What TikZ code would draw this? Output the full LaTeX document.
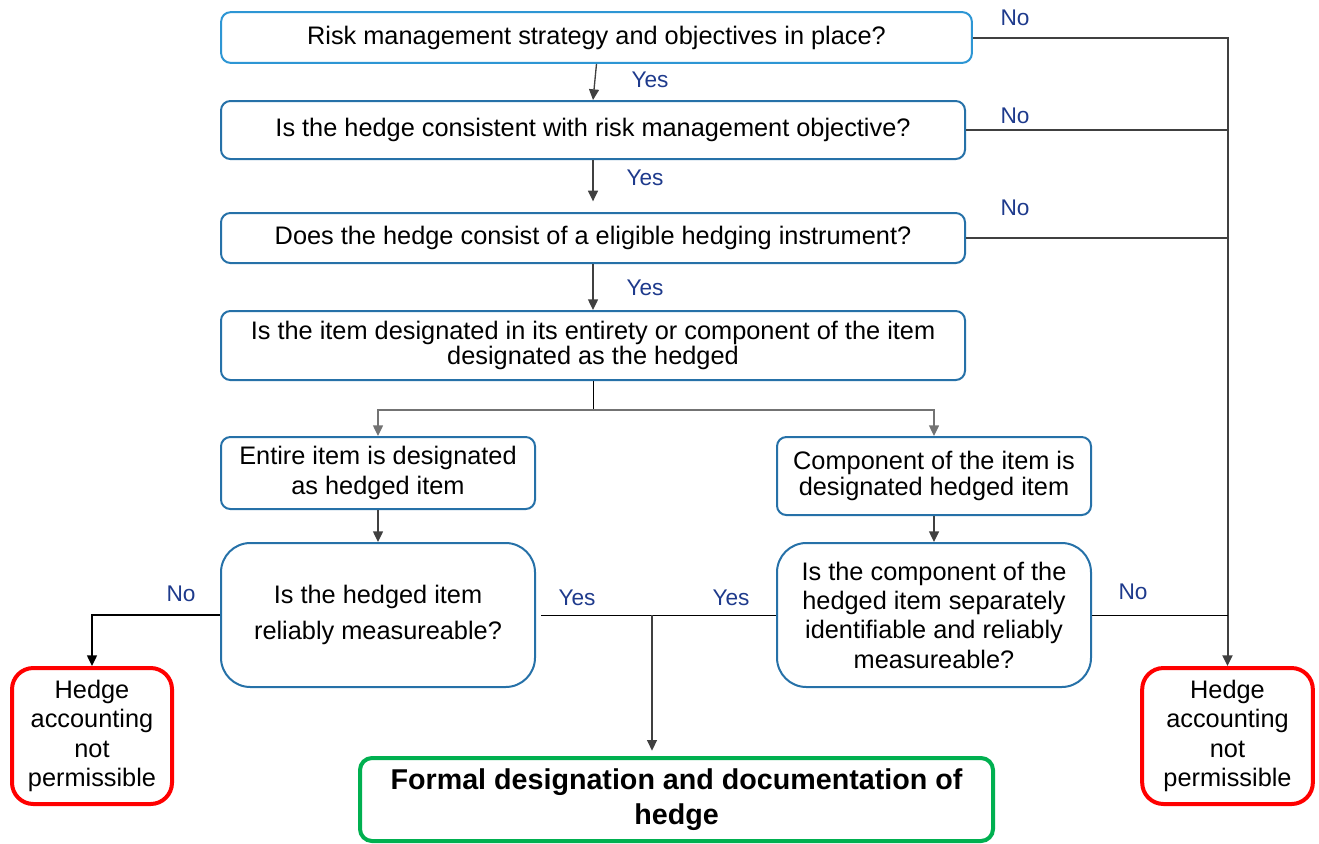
\documentclass[tikz,border=0pt]{standalone}
\usepackage{fontspec}
\setmainfont{Liberation Sans}
\usetikzlibrary{arrows.meta}
\definecolor{boxblue}{RGB}{38,113,168}
\definecolor{topblue}{RGB}{45,150,212}
\definecolor{answer}{RGB}{30,58,140}
\definecolor{okgreen}{RGB}{0,176,80}
\begin{document}
\begin{tikzpicture}[x=0.75pt,y=-0.75pt]
        \tikzstyle{question}=[rectangle,rounded corners=7pt,draw=boxblue,line width=1.5pt,fill=white,align=center,inner sep=2pt,font=\fontsize{19}{22}\selectfont]
        \tikzstyle{refuse}=[rectangle,rounded corners=16pt,draw=red,line width=3pt,fill=white,align=center,font=\fontsize{19}{22}\selectfont]
        \tikzstyle{formal}=[rectangle,rounded corners=9pt,draw=okgreen,line width=3pt,fill=white,align=center,font=\bfseries\fontsize{21.5}{26}\selectfont]
        \tikzstyle{reply}=[text=answer,font=\fontsize{17}{20}\selectfont]
        \tikzstyle{arrow}=[draw=black!75,line width=1pt,-{Triangle[width=7.5pt,length=8pt]}]
        \tikzstyle{link}=[draw=black,line width=0.75pt]
        \tikzstyle{rail}=[draw=black!75,line width=1.5pt]

        \useasboundingbox (0,0) rectangle (1319,843);

       \begin{scope}
         % questions
         \node [question,draw=topblue,minimum width=563pt,minimum height=38pt] (strategy) at (596.5,37.5) {Risk management strategy and objectives in place?};
         \node [question,minimum width=558pt,minimum height=43.5pt] (consistent) at (593,130) {Is the hedge consistent with risk management objective?};
         \node [question,minimum width=558pt,minimum height=37.5pt] (eligible) at (593,238) {Does the hedge consist of a eligible hedging instrument?};
         \node [question,minimum width=558pt,minimum height=51.75pt,font=\fontsize{19}{19}\selectfont] (entirety) at (593,345.5) {Is the item designated in its entirety or component of the item\\designated as the hedged};
         \node [question,minimum width=235.5pt,minimum height=54pt] (entire) at (378,473) {Entire item is designated\\as hedged item};
         \node [question,minimum width=235.5pt,minimum height=58.5pt,font=\fontsize{19}{19}\selectfont] (component) at (934,476) {Component of the item is\\designated hedged item};
         \node [question,rounded corners=22pt,minimum width=235.5pt,minimum height=108pt,font=\fontsize{19}{27}\selectfont] (measure) at (378,615) {Is the hedged item\\reliably measureable?};
         \node [question,rounded corners=22pt,minimum width=235.5pt,minimum height=108pt] (separate) at (934,615) {Is the component of the\\hedged item separately\\identifiable and reliably\\measureable?};

         % outcomes
         \node [refuse,minimum width=120pt,minimum height=102pt] (refuseL) at (92,736) {Hedge\\accounting\\not\\permissible};
         \node [refuse,minimum width=128pt,minimum height=102pt] (refuseR) at (1227.5,736) {Hedge\\accounting\\not\\permissible};
         \node [formal,minimum width=474.75pt,minimum height=62.25pt] (formal) at (676.5,799.5) {Formal designation and documentation of\\hedge};

         % yes path
         \path[arrow] (strategy.south) -- (consistent.north);
         \path[arrow,shorten >=8pt] (consistent.south) -- (eligible.north);
         \path[arrow] (eligible.south) -- (entirety.north);
         \path[link] (entirety.south) -- ++(0,29) coordinate (split);
         \path[arrow,draw=black!55] (split) -| (entire.north);
         \path[arrow,draw=black!55] (split) -| (component.north);
         \path[arrow] (entire) -- (measure);
         \path[arrow] (component) -- (separate);
         \path[link] ([xshift=4pt]measure.east) -- (separate.west);
         \coordinate (join) at (652,615);
         \path[arrow,shorten >=4pt] (join) -- (join |- formal.north);

         % no path
         \path[arrow,line width=1.5pt] (strategy.east) -| (refuseR.north);
         \path[rail] (consistent.east) -- (consistent.east -| refuseR.north);
         \path[rail] (eligible.east) -- (eligible.east -| refuseR.north);
         \path[link] (separate.east) -- (separate.east -| refuseR.north);
         \path[arrow,draw=black] (measure.west) -| (refuseL.north);

         % answers
         \node [reply] (yesA) at (650,80) {Yes};
         \node [reply] (yesB) at (645,178) {Yes};
         \node [reply] (yesC) at (645,288) {Yes};
         \node [reply] (yesD) at (577,598) {Yes};
         \node [reply] (yesE) at (731,598) {Yes};
         \node [reply] (noA) at (1015,18) {No};
         \node [reply] (noB) at (1015,116) {No};
         \node [reply] (noC) at (1015,208) {No};
         \node [reply] (noD) at (1133,592) {No};
         \node [reply] (noE) at (181,594) {No};
        \end{scope}
      \end{tikzpicture}
\end{document}
